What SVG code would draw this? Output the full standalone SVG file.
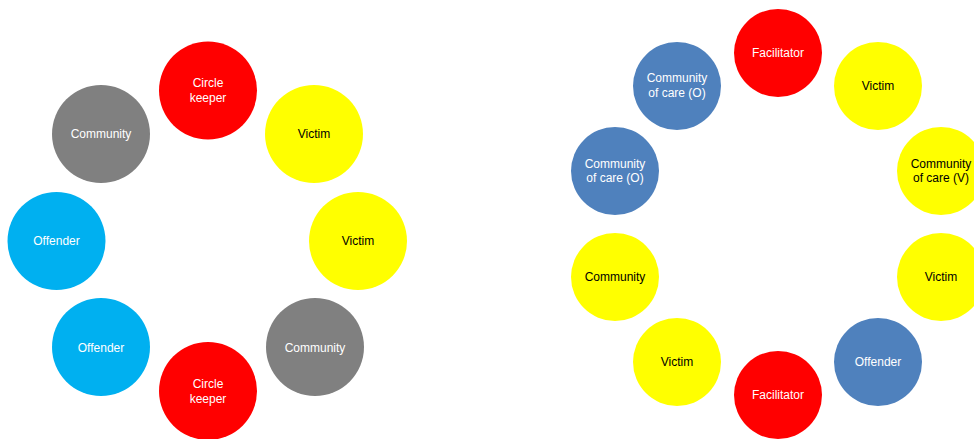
<svg xmlns="http://www.w3.org/2000/svg" width="974" height="439" viewBox="0 0 974 439">
<style>
text{font-family:"Liberation Sans",Arial,sans-serif;font-size:12px;text-anchor:middle}
.w{fill:#fff}.k{fill:#000}
.red{fill:#FF0000}.yel{fill:#FFFF00}.gry{fill:#808080}.cyn{fill:#00B0F0}.blu{fill:#4F81BD}
</style>
<rect width="974" height="439" fill="#fff"/>
<g id="connectors"/>
<g id="l-keeper-top"><circle class="red" cx="208" cy="90.5" r="49"/><text class="w" x="208" y="87">Circle</text><text class="w" x="208" y="102">keeper</text></g>
<g id="l-victim-1"><circle class="yel" cx="314" cy="134" r="49"/><text class="k" x="314" y="138">Victim</text></g>
<g id="l-victim-2"><circle class="yel" cx="358" cy="241" r="49"/><text class="k" x="358" y="245">Victim</text></g>
<g id="l-community-2"><circle class="gry" cx="315" cy="347" r="49"/><text class="w" x="315" y="352">Community</text></g>
<g id="l-keeper-bottom"><circle class="red" cx="208" cy="391" r="49"/><text class="w" x="208" y="388">Circle</text><text class="w" x="208" y="403">keeper</text></g>
<g id="l-offender-2"><circle class="cyn" cx="101" cy="347" r="49"/><text class="w" x="101" y="352">Offender</text></g>
<g id="l-offender-1"><circle class="cyn" cx="56.5" cy="241" r="49"/><text class="w" x="56.5" y="245">Offender</text></g>
<g id="l-community-1"><circle class="gry" cx="101" cy="134" r="49"/><text class="w" x="101" y="138">Community</text></g>

<g id="r-facilitator-top"><circle class="red" cx="778" cy="53" r="44"/><text class="w" x="778" y="57">Facilitator</text></g>
<g id="r-victim-1"><circle class="yel" cx="878" cy="86" r="44"/><text class="k" x="878" y="90">Victim</text></g>
<g id="r-coc-v"><circle class="yel" cx="941" cy="171" r="44"/><text class="k" x="941" y="168">Community</text><text class="k" x="941" y="182">of care (V)</text></g>
<g id="r-victim-2"><circle class="yel" cx="941" cy="277" r="44"/><text class="k" x="941" y="281">Victim</text></g>
<g id="r-offender"><circle class="blu" cx="878" cy="362" r="44"/><text class="w" x="878" y="366">Offender</text></g>
<g id="r-facilitator-bottom"><circle class="red" cx="778" cy="395" r="44"/><text class="w" x="778" y="399">Facilitator</text></g>
<g id="r-victim-3"><circle class="yel" cx="677" cy="362" r="44"/><text class="k" x="677" y="366">Victim</text></g>
<g id="r-community"><circle class="yel" cx="615" cy="277" r="44"/><text class="k" x="615" y="281">Community</text></g>
<g id="r-coc-o-1"><circle class="blu" cx="615" cy="171" r="44"/><text class="w" x="615" y="168">Community</text><text class="w" x="615" y="182">of care (O)</text></g>
<g id="r-coc-o-2"><circle class="blu" cx="677" cy="86" r="44"/><text class="w" x="677" y="82">Community</text><text class="w" x="677" y="97">of care (O)</text></g>
</svg>
